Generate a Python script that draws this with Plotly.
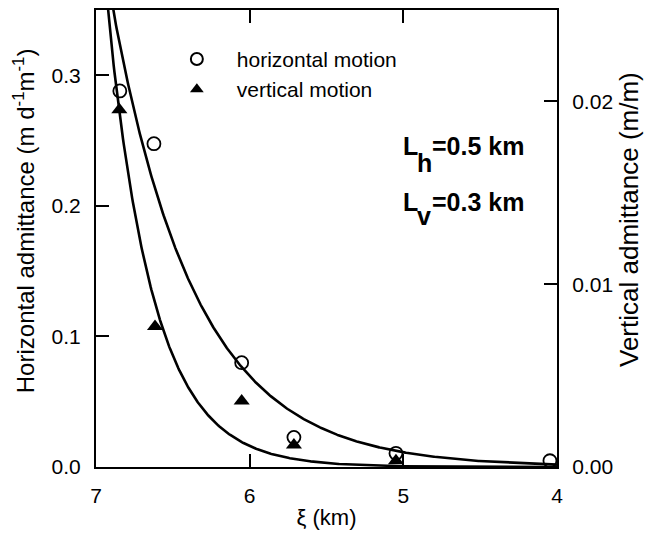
import numpy as np
import plotly.graph_objects as go

# Observations
xi_h = [6.845, 6.623, 6.052, 5.712, 5.048, 4.046]          # ξ (km), horizontal motion
adm_h = [0.288, 0.2476, 0.0799, 0.0227, 0.0105, 0.0048]    # m d^-1 m^-1
xi_v = [6.848, 6.616, 6.052, 5.712, 5.048]                 # ξ (km), vertical motion
adm_v = [0.01955, 0.00768, 0.00361, 0.0012, 0.00034]       # m/m

# Exponential model curves: amplitude at ξ = 6 km and e-folding scale in ξ
h_amp, h_scale = 0.0696, 0.55
v_amp, v_scale = 0.00115, 0.30

xi_tick_vals = [4, 5, 6, 7]
h_tick_vals = [0.0, 0.1, 0.2, 0.3]
v_tick_vals = [0.0, 0.01, 0.02]

xi = np.linspace(4.0, 7.0, 600)
h_model = h_amp * np.exp((xi - 6.0) / h_scale)
v_model = v_amp * np.exp((xi - 6.0) / v_scale)

FONT = "Liberation Sans, Arial, Helvetica, sans-serif"

fig = go.Figure()
fig.add_trace(go.Scatter(x=xi, y=h_model, mode="lines", showlegend=False,
                         line=dict(color="black", width=2.6)))
fig.add_trace(go.Scatter(x=xi, y=v_model, mode="lines", showlegend=False, yaxis="y2",
                         line=dict(color="black", width=2.6)))
fig.add_trace(go.Scatter(x=xi_h, y=adm_h, mode="markers", name="horizontal motion",
                         marker=dict(symbol="circle-open", size=13, color="black",
                                     line=dict(width=1.8, color="black")),
                         cliponaxis=False))
fig.add_trace(go.Scatter(x=xi_v, y=adm_v, mode="markers", name="vertical motion", yaxis="y2",
                         marker=dict(symbol="triangle-up", size=14, color="black"),
                         cliponaxis=False))


def scale_label(symbol, sub, rest, x0, y_main, y_sub):
    """Bold 'L' with a full-size lowered subscript, followed by its value."""
    style = dict(size=25, family=FONT, color="black")
    common = dict(xref="paper", yref="paper", xanchor="left", yanchor="middle",
                  showarrow=False, font=style)
    fig.add_annotation(x=x0, y=y_main, text=f"<b>{symbol}</b>", **common)
    fig.add_annotation(x=x0 + 0.0304, y=y_sub, text=f"<b>{sub}</b>", **common)
    fig.add_annotation(x=x0 + 0.0629, y=y_main, text=f"<b>{rest}</b>", **common)


scale_label("L", "h", "=0.5 km", 0.6616, 0.7015, 0.6645)
scale_label("L", "v", "=0.3 km", 0.6616, 0.5795, 0.549)

# Axis titles placed as rotated annotations
fig.add_annotation(x=-0.156, y=0.538, xref="paper", yref="paper", textangle=-90,
                   xanchor="center", yanchor="middle", showarrow=False,
                   text="Horizontal admittance (m d<sup>-1</sup>m<sup>-1</sup>)",
                   font=dict(size=24, family=FONT, color="black"))
fig.add_annotation(x=1.156, y=0.5425, xref="paper", yref="paper", textangle=-90,
                   xanchor="center", yanchor="middle", showarrow=False,
                   text="Vertical admittance (m/m)",
                   font=dict(size=26, family=FONT, color="black"))

axis_common = dict(showline=True, linecolor="black", linewidth=2, ticks="inside",
                   ticklen=13, tickwidth=1.6, tickcolor="black", showgrid=False,
                   zeroline=False, tickfont=dict(size=21, family=FONT, color="black"))

fig.update_layout(
    width=650, height=537,
    margin=dict(l=96, r=93, t=8, b=70),
    paper_bgcolor="white", plot_bgcolor="white",
    font=dict(family=FONT, color="black"),
    xaxis=dict(range=[7, 4], tickvals=xi_tick_vals, mirror="ticks",
               title=dict(text="ξ (km)", font=dict(size=22, family=FONT), standoff=3),
               ticklabelstandoff=9, **axis_common),
    yaxis=dict(range=[0, 0.35], tickvals=h_tick_vals, tickformat=".1f",
               ticklabelstandoff=9, **axis_common),
    yaxis2=dict(range=[0, 0.025], tickvals=v_tick_vals, tickformat=".2f",
                overlaying="y", side="right",
                ticklabelstandoff=9, **axis_common),
    legend=dict(x=0.132, y=0.937, xanchor="left", yanchor="top",
                bgcolor="rgba(0,0,0,0)", font=dict(size=21, family=FONT),
                itemsizing="constant", itemwidth=70, tracegroupgap=0),
)

fig.write_html("out.html")
